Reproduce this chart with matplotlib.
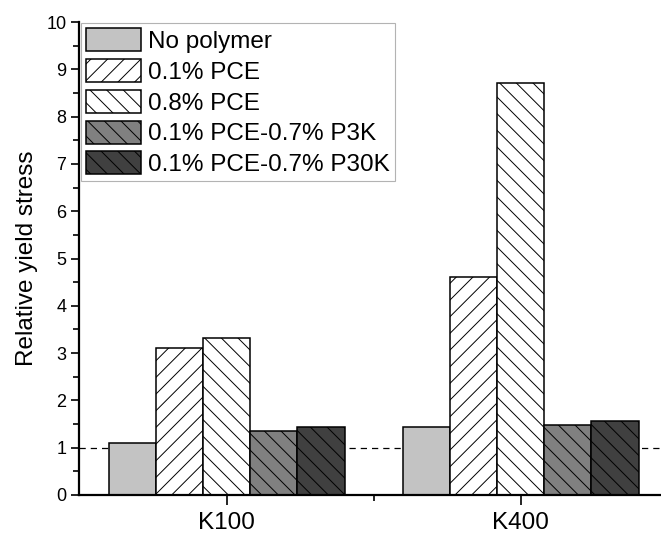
import numpy as np
import matplotlib
matplotlib.use("Agg")
import matplotlib.pyplot as plt
from matplotlib.ticker import MultipleLocator, FixedLocator

plt.rcParams['font.family'] = ['Liberation Sans', 'DejaVu Sans']
plt.rcParams['hatch.linewidth'] = 0.7

groups = ["K100", "K400"]
series = ["No polymer", "0.1% PCE", "0.8% PCE",
          "0.1% PCE-0.7% P3K", "0.1% PCE-0.7% P30K"]
no_polymer = [1.10, 1.44]
pce_01 = [3.11, 4.60]
pce_08 = [3.31, 8.72]
pce_p3k = [1.36, 1.47]
pce_p30k = [1.43, 1.56]
values = [no_polymer, pce_01, pce_08, pce_p3k, pce_p30k]

fills = ["#c3c3c3", "white", "white", "#808080", "#404040"]
hatches = [None, "//", "\\\\", "\\\\", "\\\\"]

fig = plt.figure(figsize=(6.61, 5.35), dpi=100)
ax = fig.add_axes([0.1195, 0.0748, 0.879, 0.884])

x = np.arange(len(groups))
width = 0.16
for i, (vals, fc, h, lab) in enumerate(zip(values, fills, hatches, series)):
    ax.bar(x + (i - 2) * width, vals, width, color=fc, edgecolor="black",
           linewidth=1.1, hatch=h, label=lab, zorder=2)

ax.axhline(1.0, color="black", linestyle=(0, (5, 4)), linewidth=0.9, zorder=1)

ax.set_xlim(-0.503, 1.473)
ax.set_ylim(0, 10)
ax.set_xticks(x)
ax.set_xticklabels(groups, fontsize=17.5)
ax.xaxis.set_minor_locator(FixedLocator([0.5]))
ax.yaxis.set_major_locator(MultipleLocator(1))
ax.yaxis.set_minor_locator(MultipleLocator(0.5))
ax.tick_params(axis="y", which="major", direction="out", length=6, width=1.2,
               labelsize=13, pad=3)
ax.tick_params(axis="y", which="minor", direction="out", length=4, width=1.2)
ax.tick_params(axis="x", which="major", direction="out", length=7, width=1.2,
               pad=5)
ax.tick_params(axis="x", which="minor", direction="out", length=4, width=1.2)
ax.set_ylabel("Relative yield stress", fontsize=17.5, labelpad=6)

for side in ("top", "right"):
    ax.spines[side].set_visible(False)
for side in ("left", "bottom"):
    ax.spines[side].set_linewidth(1.6)

leg = ax.legend(loc="upper left", bbox_to_anchor=(0.004, 0.997), fontsize=17.5,
                frameon=True, fancybox=False, edgecolor="#a0a0a0",
                handlelength=2.26, handleheight=1.07, labelspacing=0.25,
                handletextpad=0.3, borderpad=0.2, borderaxespad=0.0,
                borderaxespad_=None) if False else None
leg = ax.legend(loc="upper left", bbox_to_anchor=(0.004, 0.997), fontsize=17.5,
                frameon=True, fancybox=False, edgecolor="#a0a0a0",
                handlelength=2.26, handleheight=1.07, labelspacing=0.25,
                handletextpad=0.3, borderpad=0.2, borderaxespad=0.0)
leg.get_frame().set_linewidth(0.8)

fig.savefig("out.png", dpi=100)
